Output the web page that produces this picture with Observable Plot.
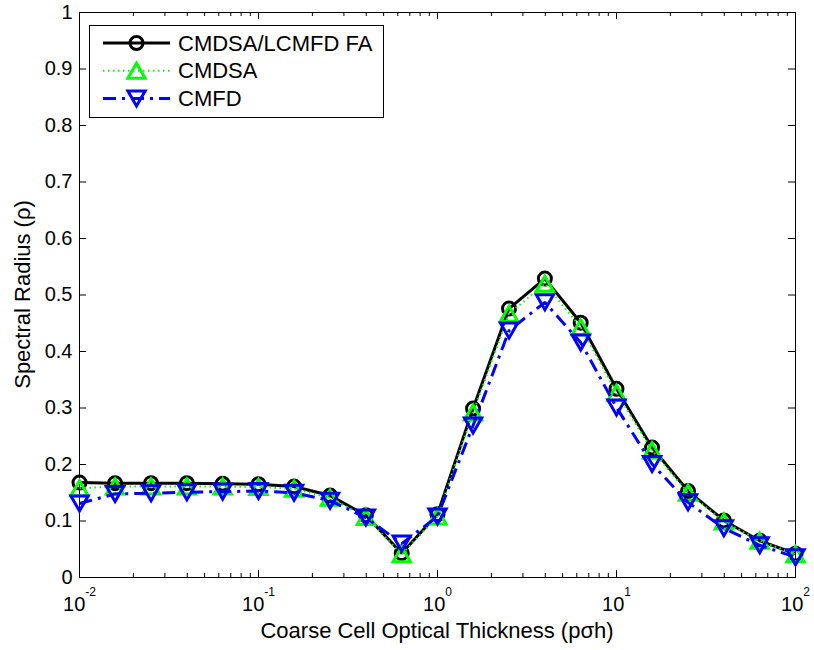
<!DOCTYPE html>
<html>
<head>
<meta charset="utf-8">
<script src="https://cdn.jsdelivr.net/npm/d3@7"></script>
<script src="https://cdn.jsdelivr.net/npm/@observablehq/plot@0.6"></script>
<style>
  html, body { margin: 0; padding: 0; background: #fff; }
  #chart { width: 814px; height: 650px; }
</style>
</head>
<body>
<div id="chart"></div>
<script>
// Coarse cell optical thickness (five points per decade)
const thickness = [0.01, 0.0158, 0.0251, 0.0398, 0.0631, 0.1, 0.158, 0.251, 0.398, 0.631,
                   1, 1.58, 2.51, 3.98, 6.31, 10, 15.8, 25.1, 39.8, 63.1, 100];

// Spectral radius for each acceleration scheme
const faRho    = [0.168, 0.167, 0.167, 0.167, 0.166, 0.165, 0.161, 0.145, 0.110, 0.043,
                  0.112, 0.299, 0.476, 0.529, 0.451, 0.334, 0.230, 0.153, 0.101, 0.065, 0.042];
const cmdsaRho = [0.158, 0.161, 0.161, 0.161, 0.161, 0.160, 0.157, 0.141, 0.107, 0.041,
                  0.108, 0.292, 0.467, 0.520, 0.443, 0.327, 0.225, 0.150, 0.099, 0.065, 0.041];
const cmfdRho  = [0.131, 0.148, 0.149, 0.151, 0.152, 0.153, 0.150, 0.136, 0.106, 0.060,
                  0.108, 0.269, 0.437, 0.487, 0.416, 0.301, 0.201, 0.133, 0.087, 0.057, 0.036];

const seriesNames = ["CMDSA/LCMFD FA", "CMDSA", "CMFD"];

// Axis ticks
const xTicks = [0.01, 0.1, 1, 10, 100];
const yTicks = [0, 0.1, 0.2, 0.3, 0.4, 0.5, 0.6, 0.7, 0.8, 0.9, 1];

const xLabel = "Coarse Cell Optical Thickness (pσh)";
const yLabel = "Spectral Radius (ρ)";

// Layout
const W = 814, H = 650;
const mL = 79, mR = 19, mT = 12, mB = 73;
const frameW = W - mL - mR, frameH = H - mT - mB;
const FONT = "'Liberation Sans', Arial, Helvetica, sans-serif";

// Marker shapes: triangles centred on their bounding box
const triUp = {
  draw(ctx, size) {
    const r = Math.sqrt(size / Math.PI), w = r * 1.15, h = r;
    ctx.moveTo(0, -h); ctx.lineTo(w, h); ctx.lineTo(-w, h); ctx.closePath();
  }
};
const triDown = {
  draw(ctx, size) {
    const r = Math.sqrt(size / Math.PI), w = r * 1.15, h = r;
    ctx.moveTo(0, h); ctx.lineTo(w, -h); ctx.lineTo(-w, -h); ctx.closePath();
  }
};

const styles = [
  {key: "fa",    name: seriesNames[0], color: "#000000", width: 3, dash: null,       symbol: "circle", r: 6.5},
  {key: "cmdsa", name: seriesNames[1], color: "#00ff00", width: 2, dash: "1.5,3.5",  symbol: triUp,    r: 7.5},
  {key: "cmfd",  name: seriesNames[2], color: "#0000ff", width: 3, dash: "13,6,3,6", symbol: triDown,  r: 7.5}
];

const rows = thickness.map((t, i) => ({t, fa: faRho[i], cmdsa: cmdsaRho[i], cmfd: cmfdRho[i]}));

// Log minor ticks (2..9 in each decade)
const minorX = d3.scaleLog().domain([0.01, 100]).ticks()
  .filter(v => Math.abs(Math.log10(v) - Math.round(Math.log10(v))) > 1e-9);

const seriesMarks = styles.flatMap(s => [
  Plot.line(rows, {x: "t", y: s.key, stroke: s.color, strokeWidth: s.width,
                   strokeDasharray: s.dash, strokeLinecap: "butt", strokeLinejoin: "miter"}),
  Plot.dot(rows, {x: "t", y: s.key, r: s.r, symbol: s.symbol, fill: "none",
                  stroke: s.color, strokeWidth: 3})
]);

const plot = Plot.plot({
  width: W, height: H,
  marginLeft: mL, marginRight: mR, marginTop: mT, marginBottom: mB,
  x: {type: "log", domain: [0.01, 100]},
  y: {domain: [0, 1]},
  style: {fontFamily: FONT, fontSize: "20px", color: "#000", background: "#fff", overflow: "visible"},
  marks: [
    Plot.frame({stroke: "#000"}),
    // inward ticks on all four sides
    Plot.tickX(xTicks, {insetTop: frameH - 7, stroke: "#000"}),
    Plot.tickX(xTicks, {insetBottom: frameH - 7, stroke: "#000"}),
    Plot.tickX(minorX, {insetTop: frameH - 4, stroke: "#000"}),
    Plot.tickX(minorX, {insetBottom: frameH - 4, stroke: "#000"}),
    Plot.tickY(yTicks, {insetRight: frameW - 7, stroke: "#000"}),
    Plot.tickY(yTicks, {insetLeft: frameW - 7, stroke: "#000"}),
    Plot.axisY(yTicks, {tickSize: 0, tickPadding: 7, label: null,
      tickFormat: d => (d === 0 || d === 1) ? String(d) : d.toFixed(1)}),
    Plot.axisX(xTicks, {tickSize: 0, tickPadding: 19, label: null,
      tickFormat: d => String(Math.round(Math.log10(d)))}),
    ...seriesMarks
  ]
});

document.getElementById("chart").appendChild(plot);

const svg = d3.select(plot);

// Render x tick labels as 10 with a superscript exponent
svg.selectAll('g[aria-label="x-axis tick label"] text').each(function() {
  const el = d3.select(this);
  const exp = el.text();
  el.text("10");
  el.append("tspan").attr("dy", "-15px").attr("font-size", "12px").text(exp);
});

// Axis titles
svg.append("text")
  .attr("x", mL + frameW / 2).attr("y", 638)
  .attr("text-anchor", "middle").attr("font-size", 22).attr("fill", "#000")
  .text(xLabel);
svg.append("text")
  .attr("transform", `translate(29.5,${mT + frameH / 2}) rotate(-90)`)
  .attr("text-anchor", "middle").attr("font-size", 22).attr("fill", "#000")
  .text(yLabel);

// Legend box
const lg = svg.append("g");
lg.append("rect")
  .attr("x", 89.5).attr("y", 25.5).attr("width", 294).attr("height", 92)
  .attr("fill", "#fff").attr("stroke", "#000").attr("stroke-width", 1);
styles.forEach((s, i) => {
  const cy = 43 + i * 27.7;
  lg.append("line")
    .attr("x1", 103).attr("x2", 170).attr("y1", cy).attr("y2", cy)
    .attr("stroke", s.color).attr("stroke-width", s.width)
    .attr("stroke-dasharray", s.dash);
  const sym = typeof s.symbol === "string" ? d3.symbolCircle : s.symbol;
  lg.append("path")
    .attr("transform", `translate(136.5,${cy})`)
    .attr("d", d3.symbol(sym, Math.PI * s.r * s.r)())
    .attr("fill", "none").attr("stroke", s.color).attr("stroke-width", 3);
  lg.append("text")
    .attr("x", 178).attr("y", cy).attr("dy", "0.35em")
    .attr("text-anchor", "start")
    .attr("font-size", 22).attr("fill", "#000")
    .text(s.name);
});
</script>
</body>
</html>
